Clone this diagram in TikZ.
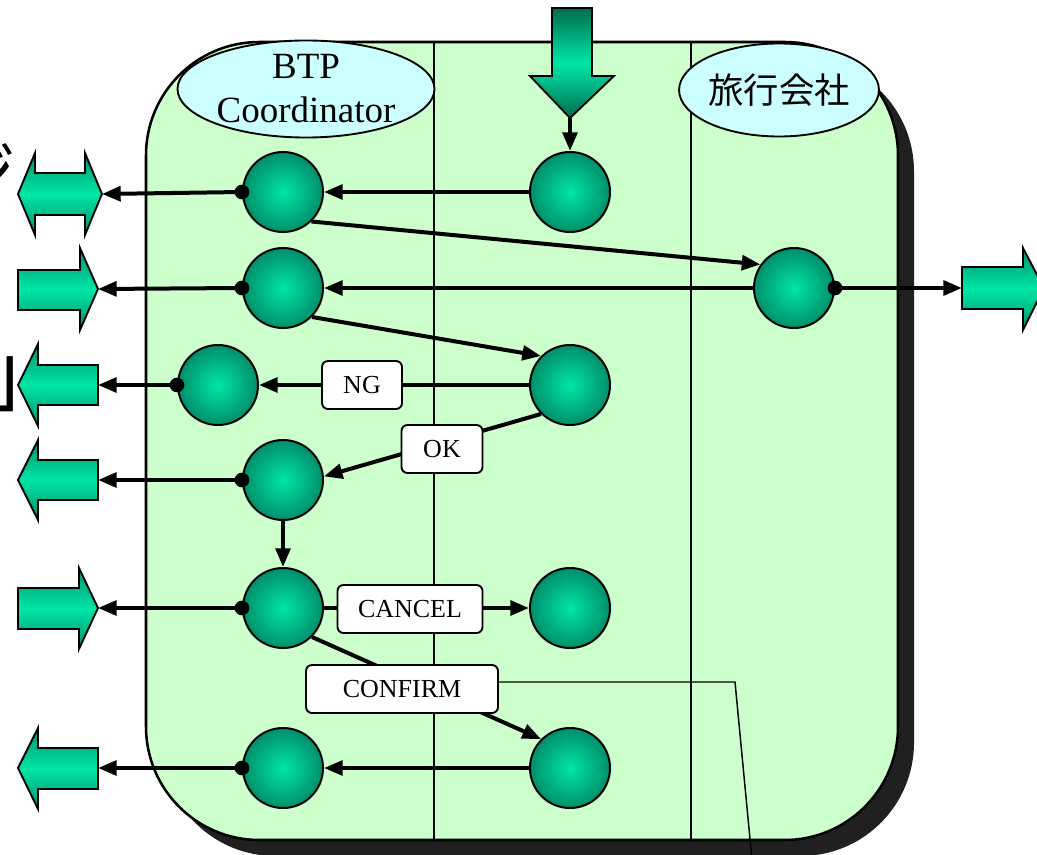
\documentclass[tikz,border=0pt]{standalone}
\usepackage{fontspec}
\setmainfont{Liberation Serif}
\newfontfamily\cjk{Noto Sans CJK JP}
\usetikzlibrary{arrows.meta,shapes.geometric,calc}

\definecolor{panelgreen}{HTML}{CCFFCC}
\definecolor{shadowgray}{HTML}{202020}
\definecolor{lanecyan}{HTML}{CCFFFF}
\definecolor{teallight}{HTML}{00E6A6}
\definecolor{tealdark}{HTML}{008F6B}
\definecolor{tealdeep}{HTML}{006A50}

\tikzset{
  proc/.style={circle, draw=black, line width=1.5pt, minimum size=60pt, inner sep=0pt,
    inner color=teallight, outer color=tealdark},
  flow/.style={line width=3pt, -{Triangle[length=14pt,width=11pt]}},
  tag/.style={draw=black, fill=white, line width=1.4pt, rounded corners=4.5pt,
    minimum height=36pt, inner sep=0pt, font=\fontsize{19.5}{22}\selectfont},
  lane/.style={ellipse, draw=black, line width=1.4pt, fill=lanecyan, inner sep=0pt},
  blockarrow/.style={draw=black, line width=1.4pt, top color=tealdark,
    bottom color=tealdark, middle color=teallight},
  joint/.style={circle, fill=black, minimum size=11pt, inner sep=0pt},
  wire/.style={line width=1.1pt},
}

\begin{document}
\begin{tikzpicture}[x=0.75pt, y=-0.75pt]
\useasboundingbox (0,0) rectangle (1037,855);

% text running in from the left margin
\node[anchor=base east, inner sep=0pt, font=\cjk\fontsize{50}{50}\selectfont] (frag1) at (16,197) {ジ};
\node[anchor=base west, inner sep=0pt, font=\cjk\fontsize{64}{64}\selectfont] (frag2) at (-17,404) {」};

% swimlane panel with its drop shadow
\fill[shadowgray, rounded corners=85pt] (162,58) rectangle (914,856);
\draw[fill=panelgreen, line width=1.9pt, rounded corners=85pt] (146,42) rectangle (898,840);
\draw[wire] (434,42) -- (434,840);
\draw[wire] (691,42) -- (691,840);

% lane headers
\node[lane, minimum width=192.75pt, minimum height=71.25pt, align=center,
  font=\fontsize{27.75}{33}\selectfont] (btp) at (306,89) {BTP\\Coordinator};
\node[lane, minimum width=133.5pt, minimum height=69.75pt,
  font=\cjk\fontsize{26.5}{30}\selectfont] (agent) at (779,90) {旅行会社};

% incoming message from above
\path[blockarrow, top color=tealdeep, bottom color=tealdeep, middle color=teallight]
  (552,8) -- (592,8) -- (592,76) -- (614,76) -- (570,118) -- (530,76) -- (552,76) -- cycle;
\coordinate (t) at (570,118);

% outside interfaces on the left
\path[blockarrow] (18,194) -- (35,153) -- (35,173) -- (85,173) -- (85,153) -- (102,194)
  -- (85,235) -- (85,215) -- (35,215) -- (35,235) -- cycle;
\coordinate (a1) at (102,194);
\path[blockarrow] (18,270) -- (80,270) -- (80,248) -- (98,289) -- (80,330) -- (80,310) -- (18,310) -- cycle;
\coordinate (a2) at (98,289);
\path[blockarrow] (18,385) -- (38,344) -- (38,365) -- (98,365) -- (98,405) -- (38,405) -- (38,426) -- cycle;
\coordinate (a3) at (98,385);
\path[blockarrow] (18,480) -- (38,440) -- (38,460) -- (98,460) -- (98,500) -- (38,500) -- (38,520) -- cycle;
\coordinate (a4) at (98,480);
\path[blockarrow] (18,588) -- (79,588) -- (79,568) -- (98,608) -- (79,649) -- (79,629) -- (18,629) -- cycle;
\coordinate (a5) at (98,608);
\path[blockarrow] (18,768) -- (38,728) -- (38,748) -- (98,748) -- (98,789) -- (38,789) -- (38,809) -- cycle;
\coordinate (a6) at (98,768);

% outside interface on the right
\path[blockarrow] (962,267) -- (1023,267) -- (1023,248) -- (1044,288) -- (1023,330) -- (1023,309) -- (962,309) -- cycle;
\coordinate (r) at (962,288);

% process steps
\node[proc] (c1) at (570,192) {};
\node[proc] (c2) at (283,192) {};
\node[proc] (c3) at (794,288) {};
\node[proc] (c4) at (283,288) {};
\node[proc] (c5) at (570,385) {};
\node[proc] (c6) at (218,385) {};
\node[proc] (c7) at (283,480) {};
\node[proc] (c8) at (283,608) {};
\node[proc] (c9) at (570,608) {};
\node[proc] (c10) at (570,768) {};
\node[proc] (c11) at (283,768) {};

% message flow
\draw[flow] (t) -- (c1.north);
\draw[flow] (c1.west) -- (c2.east);
\draw[flow] (c2.west) -- (a1);
\draw[flow] (c2.-46) -- (c3.145);
\draw[flow] (c3.west) -- (c4.east);
\draw[flow] (c4.west) -- (a2);
\draw[flow] (c3.east) -- (r);
\draw[flow] (c4.-45) -- (c5.135);
\draw[flow] (c5.west) -- (c6.east);
\draw[flow] (c6.west) -- (a3);
\draw[flow] (c5.225) -- (c7.5);
\draw[flow] (c7.west) -- (a4);
\draw[flow] (c7.south) -- (c8.north);
\draw[flow] (c8.west) -- (a5);
\draw[flow] (c8.east) -- (c9.west);
\draw[flow] (c8.-45) -- (c10.135);
\draw[flow] (c10.west) -- (c11.east);
\draw[flow] (c11.west) -- (a6);

% junction dots
\node[joint] (j2) at (c2.west) {};
\node[joint] (j3) at (c3.east) {};
\node[joint] (j4) at (c4.west) {};
\node[joint] (j6) at (c6.west) {};
\node[joint] (j7) at (c7.west) {};
\node[joint] (j8) at (c8.west) {};
\node[joint] (j11) at (c11.west) {};

% branch labels
\node[tag, minimum width=60pt] (lng) at (362,385) {NG};
\node[tag, minimum width=60.75pt] (lok) at (442,449) {OK};
\node[tag, minimum width=108.75pt] (lcancel) at (410,609) {CANCEL};
\node[tag, minimum width=144pt] (lconfirm) at (402,689) {CONFIRM};

% callout line from the CONFIRM label
\coordinate (cf1) at (735,682);
\coordinate (cf2) at (752,860);
\draw[wire] (lconfirm.east |- cf1) -- (cf1) -- (cf2);
\end{tikzpicture}
\end{document}
